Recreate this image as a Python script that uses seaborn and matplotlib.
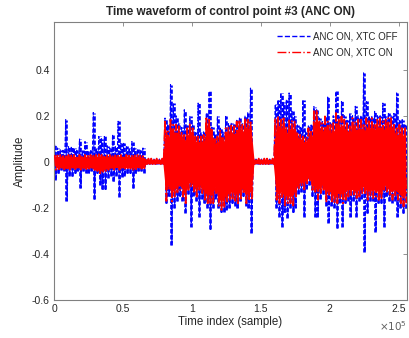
import numpy as np
import pandas as pd
import matplotlib
matplotlib.use("Agg")
import matplotlib.pyplot as plt
import seaborn as sns

# envelope of each 2000-sample block (amplitude)
bin_size = 2000

blue_top = [.074, .06, .052, .05, .183, .07, .067, .06, .05, .099, .05, .088, .045, .05, .214, .06,
            .11, .10, .11, .07, .06, .118, .07, .176, .08, .08, .07, .06, .088, .06, .055, .05, .06,
            .012, .012, .012, .012, .012, .012, .012,
            .19, .16, .335, .255, .2, .17, .15, .226, .16, .197, .16, .13, .255, .13, .13, .212,
            .306, .15, .12, .197, .15, .13, .197, .17, .17, .165, .18, .19, .17, .2, .213, .32,
            .012, .012, .012, .012, .012, .012, .012, .012,
            .25, .27, .30, .26, .27, .299, .22, .197, .16, .15, .27, .13, .16, .16, .24,
            .226, .19, .175, .2, .281, .17, .2, .306, .2, .262, .2, .18, .212, .2, .241, .2, .2,
            .386, .262, .2, .2, .219, .2, .2, .255, .2, .21, .2, .21, .299, .18, .183, .16]
blue_bot = [-.078, -.05, -.035, -.04, -.17, -.06, -.063, -.05, -.04, -.114, -.04, -.05, -.049, -.04,
            -.162, -.05, -.10, -.12, -.12, -.07, -.06, -.085, -.06, -.153, -.064, -.06, -.05, -.05,
            -.114, -.05, -.04, -.04, -.05,
            -.008, -.008, -.008, -.008, -.008, -.008, -.008,
            -.18, -.15, -.361, -.2, -.17, -.15, -.17, -.223, -.14, -.281, -.15, -.17, -.238, -.16,
            -.18, -.2, -.293, -.2, -.16, -.2, -.22, -.22, -.209, -.2, -.18, -.19, -.2, -.17, -.15,
            -.19, -.2, -.307,
            -.008, -.008, -.008, -.008, -.008, -.008, -.008, -.008,
            -.2, -.24, -.281, -.22, -.245, -.2, -.22, -.2, -.14, -.13, -.238, -.12, -.1, -.15, -.238,
            -.238, -.16, -.14, -.19, -.267, -.19, -.2, -.288, -.18, -.281, -.18, -.17, -.238, -.17,
            -.238, -.17, -.16, -.39, -.223, -.17, -.17, -.303, -.18, -.18, -.281, -.15, -.17, -.18,
            -.17, -.238, -.2, -.223, -.2]
red_top = [.03, .028, .03, .025, .032, .03, .028, .03, .027, .03, .028, .03, .026, .03, .032, .03,
           .033, .03, .03, .028, .03, .03, .028, .03, .03, .028, .03, .027, .03, .028, .03, .027, .025,
           .014, .014, .014, .014, .014, .014, .014,
           .175, .132, .183, .161, .161, .154, .132, .117, .146, .168, .146, .11, .11, .11, .117, .197,
           .19, .139, .099, .11, .139, .11, .146, .154, .161, .154, .175, .183, .165, .19, .183, .18,
           .014, .014, .014, .014, .014, .014, .014, .014,
           .19, .197, .183, .197, .154, .18, .18, .175, .132, .125, .11, .11, .146, .139, .22,
           .226, .175, .168, .197, .175, .161, .168, .212, .19, .197, .183, .168, .161, .19, .175,
           .183, .183, .168, .19, .183, .19, .168, .19, .19, .175, .183, .19, .19, .161, .146, .161,
           .146, .146]
red_bot = [-.035, -.032, -.03, -.033, -.035, -.035, -.03, -.032, -.03, -.035, -.03, -.032, -.03, -.033,
           -.036, -.04, -.05, -.048, -.04, -.035, -.032, -.035, -.03, -.035, -.033, -.03, -.032, -.03,
           -.035, -.032, -.03, -.03, -.028,
           -.01, -.01, -.01, -.01, -.01, -.01, -.01,
           -.17, -.122, -.172, -.151, -.14, -.122, -.151, -.18, -.122, -.107, -.13, -.151, -.122, -.136,
           -.165, -.18, -.18, -.18, -.136, -.194, -.209, -.2, -.18, -.17, -.16, -.17, -.18, -.16, -.14,
           -.18, -.17, -.16,
           -.01, -.01, -.01, -.01, -.01, -.01, -.01, -.01,
           -.165, -.18, -.16, -.19, -.18, -.18, -.19, -.15, -.122, -.107, -.12, -.093, -.085, -.13, -.13,
           -.165, -.136, -.122, -.172, -.151, -.172, -.18, -.18, -.165, -.18, -.165, -.151, -.151,
           -.151, -.165, -.151, -.136, -.136, -.165, -.151, -.158, -.151, -.165, -.165, -.122, -.136,
           -.151, -.165, -.151, -.165, -.18, -.194, -.18]

labels = ["ANC ON, XTC OFF", "ANC ON, XTC ON"]


def wave(top, bot):
    # zigzag max/min inside each block
    n = len(top)
    x = np.repeat(np.arange(n) * bin_size, 2) + np.tile([bin_size * 0.25, bin_size * 0.75], n)
    y = np.column_stack([top, bot]).ravel()
    return x, y


sns.set_style("white")
plt.rcParams['font.family'] = ['Liberation Sans', 'DejaVu Sans']
plt.rcParams['axes.unicode_minus'] = False

fig = plt.figure(figsize=(4.09, 3.38), dpi=100)
ax = fig.add_axes([54 / 409, 38 / 338, 353 / 409, 278 / 338])

centers = (np.arange(len(blue_top)) + 0.5) * bin_size

# blue: dashed columns per block
ax.vlines(centers, blue_bot, blue_top, color="#0000FF", linewidth=1.9,
          linestyles=(0, (1.6, 0.7)), zorder=2)
xb, yb = wave(blue_top, blue_bot)
sns.lineplot(x=xb, y=yb, ax=ax, color="#0000FF", linestyle="--", linewidth=0.8,
             estimator=None, sort=False, label=labels[0], zorder=2)

# red: dense body with spiky edges
xr, yr = wave(red_top, red_bot)
ax.fill_between(centers, np.array(red_bot) * 0.8, np.array(red_top) * 0.8,
                color="#FF0000", linewidth=0, zorder=3)
sns.lineplot(x=xr, y=yr, ax=ax, color="#FF0000", linestyle="-.", linewidth=1.3,
             estimator=None, sort=False, label=labels[1], zorder=3)

ax.set_xlim(0, 256000)
ax.set_ylim(-0.6, 0.607)
ax.set_xticks([0, 50000, 100000, 150000, 200000, 250000])
ax.set_yticks([-0.6, -0.4, -0.2, 0, 0.2, 0.4])
ax.xaxis.set_major_formatter(plt.FuncFormatter(lambda v, p: "%g" % (v / 1e5)))
ax.yaxis.set_major_formatter(plt.FuncFormatter(lambda v, p: "0" if abs(v) < 1e-9 else "%g" % v))

gray = "#262626"
for s in ax.spines.values():
    s.set_color("#808080")
    s.set_linewidth(0.8)
ax.tick_params(direction="in", length=3, width=0.6, colors="#808080", labelcolor=gray,
               labelsize=7.5, top=True, right=True, pad=3)
ax.text(1.0, -0.07, r"$\times10^5$", transform=ax.transAxes, ha="right", va="top",
        fontsize=7.5, color="#606060")

ax.set_xlabel("Time index (sample)", fontsize=8.3, color=gray, labelpad=1)
ax.set_ylabel("Amplitude", fontsize=8.3, color=gray, labelpad=4)
ax.set_title("Time waveform of control point #3 (ANC ON)", fontsize=8.5, fontweight="bold", pad=5)

leg = ax.legend(loc="upper right", frameon=False, fontsize=7.0, handlelength=3.4,
                handletextpad=0.3, borderaxespad=0.6, labelspacing=0.55)
for h in leg.get_lines():
    h.set_linewidth(1.0)

fig.savefig("out.png", dpi=100)
